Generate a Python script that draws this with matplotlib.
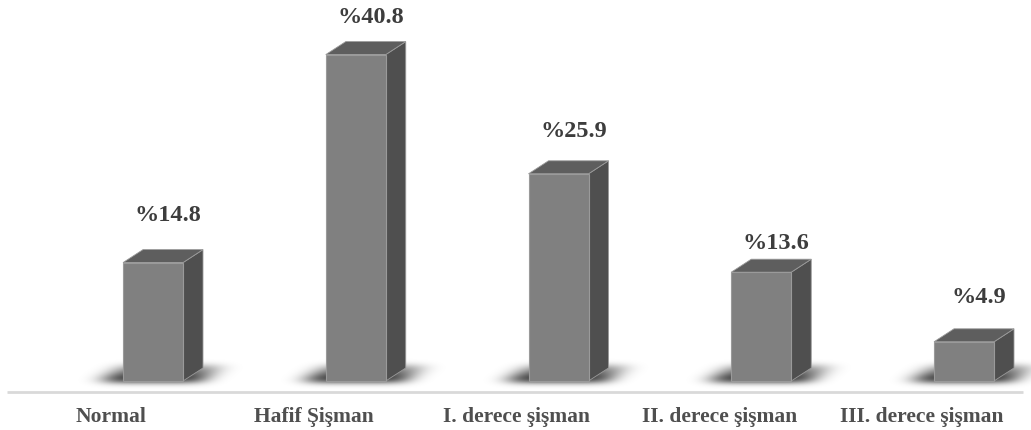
import numpy as np
import matplotlib
matplotlib.use("Agg")
import matplotlib.pyplot as plt
from matplotlib.patches import Polygon

# Data
categories = ["Normal", "Hafif Şişman", "I. derece şişman", "II. derece şişman", "III. derece şişman"]
values = [14.8, 40.8, 25.9, 13.6, 4.9]
value_labels = ["%14.8", "%40.8", "%25.9", "%13.6", "%4.9"]

# Styling
W, H, DPI = 1031, 430, 100
FRONT = "#808080"
TOP = "#5e5e5e"
SIDE = "#4f4f4f"
EDGE = "#9a9a9a"
VALUE_TEXT = "#3d3d3d"
CAT_TEXT = "#4f4f4f"
label_offsets_px = [47, 37, 42, 29, 44]   # gap between bar top and its value label
depth_px = (20, 13)                        # pseudo-3D depth of each bar

fig = plt.figure(figsize=(W / DPI, H / DPI), dpi=DPI)
ax = fig.add_axes([0, 0, 1, 1])
ax.set_axis_off()

# Axis scaling: x is category index, y is percentage
step_px = 202.75
first_px = 153.0
ppu_y = 8.0
base_px = 49.0  # distance of zero line from bottom of figure
ax.set_xlim(-first_px / step_px, (W - first_px) / step_px)
ax.set_ylim(-base_px / ppu_y, (H - base_px) / ppu_y)

bar_w = 60.0 / step_px
ddx = depth_px[0] / step_px
ddy = depth_px[1] / ppu_y
x = np.arange(len(values))


def gauss_kernel(sigma):
    r = int(3 * sigma)
    t = np.arange(-r, r + 1)
    k = np.exp(-0.5 * (t / sigma) ** 2)
    return k / k.sum()


# Soft floor shadows: a skewed footprint per bar, blurred
XX, YY = np.meshgrid(np.arange(W) + 0.5, np.arange(H) + 0.5)  # YY from top
mask = np.zeros((H, W))
bottom = H - base_px
for xi in x:
    cx = first_px + step_px * xi
    y_lo, y_hi = bottom - 16, bottom + 1
    t = np.clip((bottom - YY) / 16.0, 0, 1)
    l_edge = cx - 30 - 20 + t * 18
    r_edge = cx + 30 + 18 + t * 22
    inside = (YY >= y_lo) & (YY <= y_hi) & (XX >= l_edge) & (XX <= r_edge)
    # darker near the bar foot, fading toward the back
    mask[inside] = np.maximum(mask[inside], (0.3 + 0.7 * (1 - t))[inside])
kx, ky = gauss_kernel(11.0), gauss_kernel(3.0)
blur = np.apply_along_axis(lambda r: np.convolve(r, kx, mode="same"), 1, mask)
blur = np.apply_along_axis(lambda c: np.convolve(c, ky, mode="same"), 0, blur)
shadow = np.zeros((H, W, 4))
shadow[..., 3] = np.clip(blur * 0.95, 0, 0.85)
xl, xr = ax.get_xlim()
yb, yt = ax.get_ylim()
ax.imshow(shadow, extent=[xl, xr, yb, yt], origin="upper", aspect="auto",
          interpolation="bilinear", zorder=1)

# Floor line
ax.plot([(7 - first_px) / step_px, (1023 - first_px) / step_px], [-11 / ppu_y] * 2,
        color="#d9d9d9", lw=2, solid_capstyle="butt", zorder=2)

# Bars
for xi, v in zip(x, values):
    x0, x1 = xi - bar_w / 2, xi + bar_w / 2
    front = Polygon([(x0, 0), (x1, 0), (x1, v), (x0, v)], closed=True,
                    facecolor=FRONT, edgecolor=EDGE, lw=0.8, zorder=4)
    top = Polygon([(x0, v), (x1, v), (x1 + ddx, v + ddy), (x0 + ddx, v + ddy)],
                  closed=True, facecolor=TOP, edgecolor=EDGE, lw=0.6, zorder=3)
    side = Polygon([(x1, 0), (x1 + ddx, ddy), (x1 + ddx, v + ddy), (x1, v)],
                   closed=True, facecolor=SIDE, edgecolor=EDGE, lw=0.6, zorder=3)
    for p in (side, top, front):
        ax.add_patch(p)

px2pt = 72 / DPI

# Value labels
for xi, v, lab, off in zip(x, values, value_labels, label_offsets_px):
    ax.annotate(lab, (xi, v), xytext=(15 * px2pt, off * px2pt), textcoords="offset points",
                ha="center", va="center", fontsize=17.5, fontweight="bold",
                family="Liberation Serif", color=VALUE_TEXT, zorder=5)

# Category labels
for xi, c in zip(x, categories):
    ax.annotate(c, (xi, 0), xytext=(-42 * px2pt, -36 * px2pt), textcoords="offset points",
                ha="center", va="center", fontsize=15.5, fontweight="bold",
                family="Liberation Serif", color=CAT_TEXT, zorder=5)

fig.savefig("out.png", dpi=DPI)
